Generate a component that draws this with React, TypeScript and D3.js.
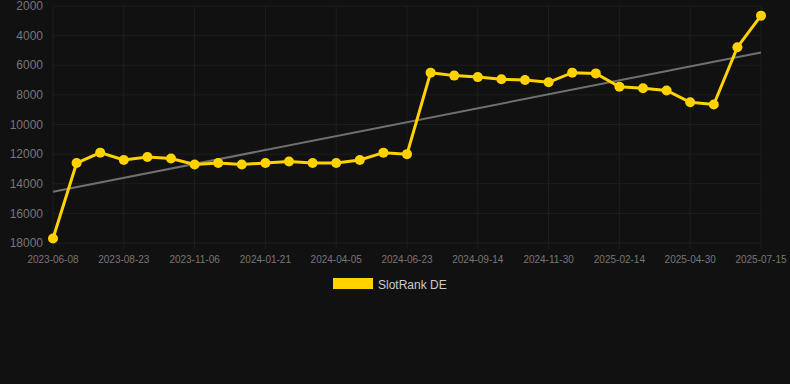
import React from "react";
import * as d3 from "d3";

const dates = [
  "2023-06-08", "2023-07-03", "2023-07-28", "2023-08-23", "2023-09-17", "2023-10-12",
  "2023-11-06", "2023-12-01", "2023-12-26", "2024-01-21", "2024-02-15", "2024-03-11",
  "2024-04-05", "2024-05-01", "2024-05-27", "2024-06-23", "2024-07-20", "2024-08-16",
  "2024-09-14", "2024-10-09", "2024-11-04", "2024-11-30", "2024-12-25", "2025-01-20",
  "2025-02-14", "2025-03-11", "2025-04-05", "2025-04-30", "2025-05-25", "2025-06-19",
  "2025-07-15",
];

const rankDE = [
  17700, 12600, 11900, 12400, 12200, 12300, 12700, 12600, 12700, 12600, 12500, 12600,
  12600, 12400, 11900, 12000, 6500, 6700, 6800, 6950, 7000, 7150, 6500, 6550,
  7450, 7550, 7700, 8500, 8650, 4780, 2650,
];

const yTicks = [2000, 4000, 6000, 8000, 10000, 12000, 14000, 16000, 18000];
const seriesName = "SlotRank DE";

const W = 790;
const H = 384;
const margin = { top: 6, right: 29, bottom: 141, left: 53 };
const font = "'Liberation Sans', Arial, Helvetica, sans-serif";

const App = () => {
  const x = d3.scalePoint().domain(dates).range([margin.left, W - margin.right]);
  const y = d3.scaleLinear().domain([2000, 18000]).range([margin.top, H - margin.bottom]);

  // linear trend (least squares over index)
  const n = rankDE.length;
  const idx = d3.range(n);
  const mx = d3.mean(idx) as number;
  const my = d3.mean(rankDE) as number;
  const slope =
    d3.sum(idx, (i) => (i - mx) * (rankDE[i] - my)) / d3.sum(idx, (i) => (i - mx) * (i - mx));
  const icpt = my - slope * mx;

  const line = d3
    .line<number>()
    .x((_, i) => x(dates[i]) as number)
    .y((d) => y(d));

  const labelDates = dates.filter((_, i) => i % 3 === 0);

  return (
    <div style={{ position: "absolute", left: 0, top: 0 }}>
      <svg width={W} height={H} style={{ display: "block", background: "#111111" }}>
        <g>
          {yTicks.map((t) => (
            <line key={t} x1={margin.left} x2={W - margin.right} y1={y(t)} y2={y(t)} stroke="#1e1e1e" strokeWidth={1} />
          ))}
          {labelDates.map((d) => (
            <line key={d} x1={x(d)} x2={x(d)} y1={margin.top} y2={H - margin.bottom + 6} stroke="#1e1e1e" strokeWidth={1} />
          ))}
        </g>
        <g fontFamily={font} fontSize={12} fill="#777" textAnchor="end">
          {yTicks.map((t) => (
            <text key={t} x={margin.left - 10} y={y(t)} dy="0.35em">{t}</text>
          ))}
        </g>
        <g fontFamily={font} fontSize={10} fill="#777" textAnchor="middle">
          {labelDates.map((d) => (
            <text key={d} x={x(d)} y={H - margin.bottom + 20}>{d}</text>
          ))}
        </g>
        <line
          x1={x(dates[0])}
          x2={x(dates[n - 1])}
          y1={y(icpt)}
          y2={y(icpt + slope * (n - 1))}
          stroke="#707070"
          strokeWidth={2}
        />
        <path d={line(rankDE) || ""} fill="none" stroke="#FFD200" strokeWidth={3} />
        {rankDE.map((v, i) => (
          <circle key={i} cx={x(dates[i])} cy={y(v)} r={5} fill="#FFD200" />
        ))}
        <g fontFamily={font} fontSize={12}>
          <rect x={333} y={278} width={40} height={11} fill="#FFD200" />
          <text x={378} y={288.5} fill="#cccccc">{seriesName}</text>
        </g>
      </svg>
    </div>
  );
};

export default App;
